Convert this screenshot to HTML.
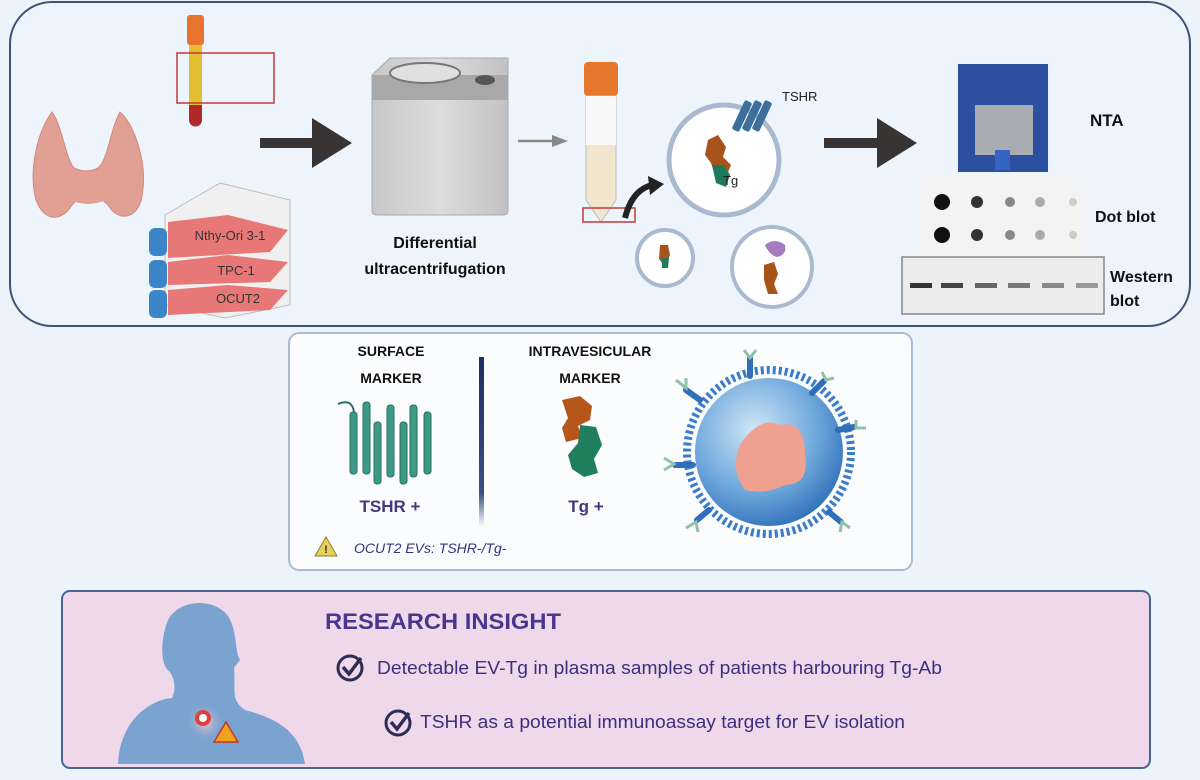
<!DOCTYPE html>
<html><head><meta charset="utf-8"><style>
html,body{margin:0;padding:0;background:#edf3fb;}
svg{display:block;font-family:"Liberation Sans",sans-serif;}
</style></head><body>
<svg width="1200" height="780" viewBox="0 0 1200 780" xmlns="http://www.w3.org/2000/svg">
<defs>
<radialGradient id="ves" cx="0.4" cy="0.35" r="0.7"><stop offset="0" stop-color="#cfe6f7"/><stop offset="0.6" stop-color="#6fa8dc"/><stop offset="1" stop-color="#2f6fb8"/></radialGradient>
<linearGradient id="div" x1="0" y1="0" x2="0" y2="1"><stop offset="0" stop-color="#1f2f5e"/><stop offset="0.8" stop-color="#3a4f80"/><stop offset="1" stop-color="#ffffff"/></linearGradient>
<linearGradient id="cen" x1="0" y1="0" x2="1" y2="0"><stop offset="0" stop-color="#c8c8c8"/><stop offset="0.5" stop-color="#dcdcdc"/><stop offset="1" stop-color="#c2c2c2"/></linearGradient>
<radialGradient id="person" cx="0.5" cy="0.5" r="0.5"><stop offset="0" stop-color="#f6c6c6"/><stop offset="1" stop-color="#7ba3d0" stop-opacity="0"/></radialGradient>
</defs>
<rect width="1200" height="780" fill="#edf3fb"/>
<rect x="10" y="2" width="1180" height="324" rx="42" fill="#edf4fc" stroke="#3b5676" stroke-width="2"/>
<!-- thyroid -->
<path d="M52 112 C38 130 28 170 36 200 C44 222 62 222 72 205 C85 190 95 192 108 205 C118 222 138 220 142 196 C148 165 135 125 120 112 C110 130 108 160 98 168 C90 172 82 172 74 168 C66 160 62 125 52 112Z" fill="#e2a095" stroke="#d08a80" stroke-width="1"/>
<ellipse cx="88" cy="190" rx="25" ry="14" fill="#e2a095"/>
<!-- blood tube -->
<rect x="187" y="15" width="17" height="30" rx="3" fill="#e8732e"/>
<rect x="189" y="45" width="13" height="60" fill="#e3be30"/>
<path d="M189 105 h13 v15 a6.5 6.5 0 0 1 -13 0z" fill="#b0282a"/>
<rect x="177" y="53" width="97" height="50" fill="none" stroke="#c0393b" stroke-width="1.5"/>
<!-- flasks -->
<g>
<path d="M165 215 L220 183 L290 200 L290 305 L225 318 L165 305Z" fill="#f0f0f0" stroke="#bbb"/>
<path d="M168 222 L228 215 L288 230 L270 252 L168 258Z" fill="#e87878"/>
<path d="M168 262 L228 255 L288 262 L270 282 L168 285Z" fill="#e87878"/>
<path d="M168 290 L228 285 L288 290 L270 310 L168 315Z" fill="#e87878"/>
<rect x="149" y="228" width="18" height="28" rx="6" fill="#3a86c8"/>
<rect x="149" y="260" width="18" height="28" rx="6" fill="#3a86c8"/>
<rect x="149" y="290" width="18" height="28" rx="6" fill="#3a86c8"/>
<text x="230" y="240" font-size="13" text-anchor="middle" fill="#333">Nthy-Ori 3-1</text>
<text x="236" y="275" font-size="13" text-anchor="middle" fill="#333">TPC-1</text>
<text x="238" y="303" font-size="13" text-anchor="middle" fill="#333">OCUT2</text>
</g>
<path d="M260 138 H312 V118 L352 143 L312 168 V148 H260Z" fill="#393434"/>
<!-- centrifuge -->
<path d="M372 75 L390 58 H508 V210 Q508 215 503 215 H377 Q372 215 372 210Z" fill="url(#cen)" stroke="#aaa"/>
<rect x="372" y="75" width="136" height="25" fill="#a8a8a8"/>
<ellipse cx="425" cy="73" rx="35" ry="10" fill="#e0e0e0" stroke="#777" stroke-width="2"/>
<ellipse cx="485" cy="80" rx="10" ry="5" fill="#555"/>
<text x="435" y="248" font-size="16" font-weight="bold" text-anchor="middle" fill="#111">Differential</text>
<text x="435" y="274" font-size="16" font-weight="bold" text-anchor="middle" fill="#111">ultracentrifugation</text>
<path d="M518 141 H555" stroke="#888" stroke-width="2.5"/><path d="M552 135 L568 141 L552 147Z" fill="#888"/>
<!-- falcon -->
<rect x="584" y="62" width="34" height="34" rx="4" fill="#e8772e"/>
<path d="M586 96 H616 V200 L601 222 L586 200Z" fill="#f3e6cf" stroke="#bbb"/>
<path d="M586 96 H616 V145 H586Z" fill="#f8f8f8"/>
<rect x="583" y="208" width="52" height="14" fill="none" stroke="#c0393b" stroke-width="1.5"/>
<path d="M625 218 Q632 190 652 185" stroke="#222" stroke-width="6" fill="none"/><path d="M648 176 L664 184 L650 195Z" fill="#222"/>
<!-- vesicles -->
<circle cx="724" cy="160" r="55" fill="#fff" stroke="#a9bad0" stroke-width="5"/>
<path d="M708 140 l10 -5 l8 12 l-3 10 l8 8 l-6 14 l-10 -4 l-4 -12 l-6 -8z" fill="#a8531a"/>
<path d="M712 165 l12 0 l6 10 l-4 12 l-10 -4z" fill="#1f7a5a"/>
<g fill="#3d6f9c"><rect x="738" y="100" width="8" height="32" rx="2" transform="rotate(25 742 116)"/><rect x="748" y="100" width="8" height="32" rx="2" transform="rotate(25 752 116)"/><rect x="758" y="100" width="8" height="32" rx="2" transform="rotate(25 762 116)"/></g>
<text x="782" y="101" font-size="13" fill="#222">TSHR</text>
<text x="723" y="185" font-size="13" fill="#222">Tg</text>
<circle cx="665" cy="258" r="28" fill="#fff" stroke="#a9bad0" stroke-width="4"/>
<path d="M660 245 l8 0 l2 10 l-5 12 l-6 -8z" fill="#a8531a"/><path d="M662 258 l7 0 l-1 10 l-6 0z" fill="#1f7a5a"/>
<circle cx="772" cy="267" r="40" fill="#fff" stroke="#a9bad0" stroke-width="4"/>
<path d="M765 245 q10 -8 20 0 q2 10 -8 12 q-8 -2 -12 -12z" fill="#a57cc0"/>
<path d="M764 265 l10 -3 l4 12 l-4 10 l4 10 l-10 0 l-4 -14z" fill="#a8531a"/>
<path d="M824 138 H877 V118 L917 143 L877 168 V148 H824Z" fill="#393434"/>
<!-- NTA -->
<rect x="958" y="64" width="90" height="108" fill="#2c4fa0"/>
<rect x="975" y="105" width="58" height="50" fill="#a9acb2"/>
<rect x="995" y="150" width="15" height="20" fill="#3465c4"/>
<text x="1090" y="126" font-size="17" font-weight="bold" fill="#111">NTA</text>
<rect x="920" y="178" width="165" height="77" fill="#f3f3f3"/>
<g fill="#111"><circle cx="942" cy="202" r="8"/><circle cx="942" cy="235" r="8"/></g>
<g fill="#333"><circle cx="977" cy="202" r="6"/><circle cx="977" cy="235" r="6"/></g>
<g fill="#888"><circle cx="1010" cy="202" r="5"/><circle cx="1010" cy="235" r="5"/></g>
<g fill="#aaa"><circle cx="1040" cy="202" r="5"/><circle cx="1040" cy="235" r="5"/></g>
<g fill="#ccc"><circle cx="1073" cy="202" r="4"/><circle cx="1073" cy="235" r="4"/></g>
<text x="1095" y="222" font-size="16" font-weight="bold" fill="#111">Dot blot</text>
<rect x="902" y="257" width="202" height="57" fill="#ececec" stroke="#888" stroke-width="1.5"/>
<g><rect x="910" y="283" width="22" height="5" fill="#333"/><rect x="941" y="283" width="22" height="5" fill="#444"/><rect x="975" y="283" width="22" height="5" fill="#666"/><rect x="1008" y="283" width="22" height="5" fill="#777"/><rect x="1042" y="283" width="22" height="5" fill="#888"/><rect x="1076" y="283" width="22" height="5" fill="#999"/></g>
<text x="1110" y="282" font-size="16" font-weight="bold" fill="#111">Western</text>
<text x="1110" y="306" font-size="16" font-weight="bold" fill="#111">blot</text>

<!-- middle box -->
<rect x="289" y="333" width="623" height="237" rx="10" fill="#fbfcfe" stroke="#a8bcd4" stroke-width="2"/>
<text x="391" y="356" font-size="14" font-weight="bold" text-anchor="middle" fill="#111">SURFACE</text>
<text x="391" y="383" font-size="14" font-weight="bold" text-anchor="middle" fill="#111">MARKER</text>
<text x="590" y="356" font-size="14" font-weight="bold" text-anchor="middle" fill="#111">INTRAVESICULAR</text>
<text x="590" y="383" font-size="14" font-weight="bold" text-anchor="middle" fill="#111">MARKER</text>
<rect x="479" y="357" width="5" height="170" fill="url(#div)"/>
<g fill="#3e9a86" stroke="#2a6e60" stroke-width="1">
<path d="M338 404 q14 -6 16 8" fill="none" stroke="#2a6e60" stroke-width="2"/>
<rect x="350" y="412" width="7" height="62" rx="3"/><rect x="363" y="402" width="7" height="72" rx="3"/><rect x="374" y="422" width="7" height="62" rx="3"/><rect x="387" y="405" width="7" height="72" rx="3"/><rect x="400" y="422" width="7" height="62" rx="3"/><rect x="410" y="405" width="7" height="72" rx="3"/><rect x="424" y="412" width="7" height="62" rx="3"/>
</g>
<text x="390" y="512" font-size="17" font-weight="bold" text-anchor="middle" fill="#47357f">TSHR +</text>
<path d="M562 400 l18 -4 l12 10 l-2 14 l-12 6 l4 12 l-16 4 l-4 -14 l6 -10z" fill="#b5571a"/>
<path d="M580 425 l16 2 l6 18 l-8 14 l4 14 l-14 4 l-12 -8 l-4 -14 l10 -12z" fill="#1f7f5c"/>
<text x="586" y="512" font-size="17" font-weight="bold" text-anchor="middle" fill="#47357f">Tg +</text>
<path d="M326 537 L337 556 H315Z" fill="#e8d15a" stroke="#8a7a30" stroke-width="1"/>
<text x="326" y="553" font-size="11" font-weight="bold" text-anchor="middle" fill="#333">!</text>
<text x="354" y="553" font-size="14" font-style="italic" fill="#34347e">OCUT2 EVs: TSHR-/Tg-</text>
<circle cx="769" cy="452" r="82" fill="none" stroke="#3a7cc8" stroke-width="8" stroke-dasharray="3 3"/>
<circle cx="769" cy="452" r="74" fill="url(#ves)"/>
<path d="M740 445 q20 -30 40 -20 q25 -5 25 30 q5 30 -20 30 q-20 10 -40 5 q-15 -20 -5 -45z" fill="#f0a090"/>
<g stroke="#2f6fb8" stroke-width="6" stroke-linecap="round">
<path d="M750 376 v-18"/><path d="M812 393 l12 -12"/><path d="M700 400 l-14 -10"/><path d="M838 430 l16 -3"/><path d="M693 465 l-18 0"/><path d="M709 510 l-12 10"/><path d="M829 512 l12 10"/>
</g>
<g stroke="#8fc0a8" stroke-width="3" fill="none">
<path d="M744 350 l6 8 l6 -8"/><path d="M822 372 l4 8 l8 -2"/><path d="M676 380 l10 8 l0 -10"/><path d="M856 420 l0 8 l10 0"/><path d="M664 458 l10 6 l-10 6"/><path d="M686 528 l10 -6 l2 10"/><path d="M850 528 l-8 -6 l-2 10"/>
</g>

<!-- bottom box -->
<rect x="62" y="591" width="1088" height="177" rx="8" fill="#efd8ea" stroke="#4a6690" stroke-width="2"/>
<path d="M118 764 C120 720 150 700 172 698 C176 690 175 680 170 672 C160 666 160 640 168 620 C180 598 215 598 228 616 C238 632 234 650 240 660 L234 668 C236 690 230 700 245 710 C275 718 300 730 305 764Z" fill="#7ba3d0"/>
<circle cx="205" cy="722" r="20" fill="url(#person)"/>
<circle cx="203" cy="718" r="8" fill="#e04040"/><circle cx="203" cy="718" r="4" fill="#fff"/>
<path d="M226 722 L238 742 H214Z" fill="#f2a21e" stroke="#c0392b" stroke-width="1.5"/>
<text x="325" y="629" font-size="22" font-weight="bold" fill="#4a3590" textLength="236" lengthAdjust="spacingAndGlyphs">RESEARCH INSIGHT</text>
<circle cx="350" cy="668" r="12" fill="none" stroke="#2c2c55" stroke-width="3"/>
<path d="M343 667 l6 7 l12 -16" stroke="#2c2c55" stroke-width="3.5" fill="none"/>
<text x="377" y="674" font-size="18" fill="#3d2f80" textLength="565" lengthAdjust="spacingAndGlyphs">Detectable EV-Tg in plasma samples of patients harbouring Tg-Ab</text>
<circle cx="398" cy="723" r="12" fill="none" stroke="#2c2c55" stroke-width="3"/>
<path d="M391 722 l6 7 l12 -16" stroke="#2c2c55" stroke-width="3.5" fill="none"/>
<text x="420" y="728" font-size="18" fill="#3d2f80" textLength="485" lengthAdjust="spacingAndGlyphs">TSHR as a potential immunoassay target for EV isolation</text>
</svg>
</body></html>
